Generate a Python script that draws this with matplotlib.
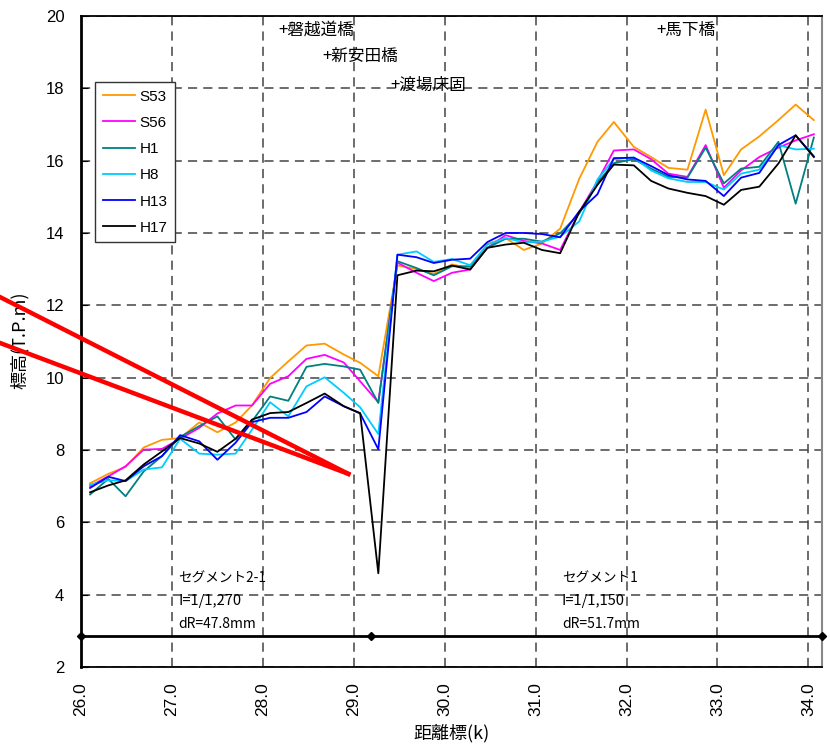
import numpy as np
import matplotlib
matplotlib.use('Agg')
import matplotlib.pyplot as plt

plt.rcParams['font.family'] = ['Noto Sans CJK JP', 'DejaVu Sans']
plt.rcParams['font.size'] = 11
plt.rcParams['xtick.direction'] = 'in'
plt.rcParams['ytick.direction'] = 'in'

# distance markers (k)
dist = [26.10, 26.30, 26.49, 26.69, 26.89, 27.09, 27.30, 27.50, 27.70, 27.88,
        28.08, 28.28, 28.48, 28.68, 28.89, 29.07, 29.27, 29.48, 29.69, 29.88,
        30.08, 30.28, 30.47, 30.67, 30.87, 31.07, 31.27, 31.48, 31.68, 31.86,
        32.08, 32.27, 32.46, 32.67, 32.87, 33.07, 33.26, 33.46, 33.67, 33.86, 34.06]

s53 = [7.08, 7.34, 7.53, 8.07, 8.28, 8.33, 8.76, 8.49, 8.76, 9.23, 9.99, 10.45, 10.89, 10.94, 10.64, 10.41, 10.04,
       13.10, 13.00, 12.87, 13.13, 13.03, 13.70, 13.86, 13.53, 13.71, 14.12, 15.50, 16.52,
       17.07, 16.38, 16.10, 15.80, 15.75, 17.41, 15.60, 16.31, 16.67, 17.12, 17.55, 17.12]
s56 = [7.00, 7.27, 7.55, 8.01, 8.03, 8.31, 8.61, 9.01, 9.23, 9.23, 9.83, 10.04, 10.52, 10.63, 10.42, 9.90, 9.32,
       13.18, 12.90, 12.67, 12.90, 12.99, 13.59, 13.94, 13.78, 13.71, 13.53, 14.58, 15.43,
       16.28, 16.31, 16.04, 15.64, 15.55, 16.43, 15.25, 15.73, 16.10, 16.36, 16.56, 16.73]
h1 = [6.77, 7.20, 6.72, 7.41, 7.83, 8.36, 8.66, 8.93, 8.29, 8.79, 9.48, 9.36, 10.30, 10.38, 10.31, 10.22, 9.30,
      13.22, 13.03, 12.83, 13.08, 13.08, 13.59, 13.84, 13.84, 13.76, 13.99, 14.54, 15.39,
      15.93, 16.04, 15.78, 15.55, 15.53, 16.36, 15.37, 15.78, 15.83, 16.52, 14.81, 16.64]
h8 = [7.04, 7.16, 7.14, 7.46, 7.52, 8.31, 7.90, 7.87, 7.90, 8.56, 9.32, 8.93, 9.76, 10.01, 9.58, 9.18, 8.44,
      13.40, 13.49, 13.20, 13.28, 13.11, 13.68, 13.86, 13.74, 13.76, 13.90, 14.32, 15.48,
      16.04, 16.09, 15.73, 15.51, 15.41, 15.41, 15.20, 15.64, 15.75, 16.43, 16.31, 16.33]
h13 = [6.95, 7.26, 7.14, 7.55, 7.83, 8.41, 8.24, 7.73, 8.20, 8.77, 8.89, 8.89, 9.05, 9.48, 9.21, 9.01, 8.02,
       13.40, 13.33, 13.17, 13.26, 13.29, 13.75, 14.00, 14.00, 13.97, 13.88, 14.60, 15.07,
       16.07, 16.08, 15.85, 15.60, 15.48, 15.44, 15.02, 15.53, 15.66, 16.43, 16.70, 16.12]
h17 = [6.83, 7.02, 7.16, 7.60, 7.96, 8.33, 8.18, 7.95, 8.31, 8.84, 9.02, 9.05, 9.30, 9.56, 9.21, 9.02, 4.59,
       12.83, 12.96, 12.94, 13.10, 12.99, 13.59, 13.68, 13.73, 13.53, 13.44, 14.58, 15.33,
       15.89, 15.87, 15.44, 15.23, 15.11, 15.02, 14.78, 15.19, 15.28, 15.92, 16.70, 16.10]

series_names = ['S53', 'S56', 'H1', 'H8', 'H13', 'H17']
series_vals = [s53, s56, h1, h8, h13, h17]
colors = ['#FF9900', '#FF00FF', '#008080', '#00CCFF', '#0000FF', '#000000']

# segment boundary line
seg_x = [26.0, 29.19, 34.15]
seg_y = [2.86, 2.86, 2.86]

# bridge labels
bridges = ['+磐越道橋', '+新安田橋', '+渡場床固', '+馬下橋']
bridge_x = [28.17, 28.65, 29.40, 32.33]
bridge_y = [19.61, 18.87, 18.09, 19.61]

# red annotation strokes
red1_x = [25.108, 28.94]
red1_y = [12.23, 7.34]
red2_x = [25.108, 28.94]
red2_y = [10.96, 7.34]

num_font = ['Liberation Sans', 'DejaVu Sans']

fig = plt.figure(figsize=(8.3, 7.46), dpi=100)
ax = fig.add_axes([0.0976, 0.1059, 0.8928, 0.8727])

for name, vals, c in zip(series_names, series_vals, colors):
    ax.plot(dist, vals, color=c, lw=1.3, label=name)

ax.plot(seg_x, seg_y, color='black', lw=2.0, marker='D', ms=4.5, clip_on=False, zorder=5)

ax.plot(red1_x, red1_y, color='#FF0000', lw=3.2, clip_on=False, zorder=6)
ax.plot(red2_x, red2_y, color='#FF0000', lw=3.2, clip_on=False, zorder=6)

for t, x, y in zip(bridges, bridge_x, bridge_y):
    ax.text(x, y, t, fontsize=12, va='center', ha='left')

ax.text(27.07, 4.46, 'セグメント2-1', fontsize=9.8, va='center')
ax.text(27.07, 3.83, 'I=1/1,270', fontsize=10.5, va='center')
ax.text(27.07, 3.19, 'dR=47.8mm', fontsize=10, va='center')
ax.text(31.29, 4.46, 'セグメント1', fontsize=9.8, va='center')
ax.text(31.29, 3.83, 'I=1/1,150', fontsize=10.5, va='center')
ax.text(31.29, 3.19, 'dR=51.7mm', fontsize=10, va='center')

ax.set_xlim(26.0, 34.15)
ax.set_ylim(2, 20)
ax.set_xticks(np.arange(26, 35, 1))
ax.set_xticklabels(['%.1f' % v for v in np.arange(26, 35, 1)], rotation=90,
                   fontsize=12.5, family=num_font)
ax.set_yticks(np.arange(2, 21, 2))
ax.set_yticklabels([str(v) for v in range(2, 21, 2)], fontsize=12, family=num_font)
ax.tick_params(axis='y', length=5, pad=12)
ax.tick_params(axis='x', length=0, pad=11)

ax.grid(True, color='#444444', linestyle=(0, (6, 4)), lw=1.1)
for side in ['left', 'bottom', 'top']:
    ax.spines[side].set_color('black')
ax.spines['left'].set_linewidth(2.0)
ax.spines['bottom'].set_linewidth(1.3)
ax.spines['top'].set_linewidth(1.3)
ax.spines['right'].set_color('#888888')
ax.spines['right'].set_linewidth(1.5)

leg = ax.legend(loc='upper left', bbox_to_anchor=(0.019, 0.8986), borderaxespad=0,
                prop={'family': num_font, 'size': 11},
                handlelength=2.1, handletextpad=0.3, labelspacing=0.8,
                fancybox=False, edgecolor='#333333', framealpha=1, borderpad=0.5)
leg.get_frame().set_linewidth(1.0)

ax.set_ylabel('標高(T.P.m)', fontsize=13, va='center')
ax.yaxis.set_label_coords(-0.0823, 0.502)
ax.set_xlabel('距離標(k)', fontsize=13, va='center')
ax.xaxis.set_label_coords(0.5, -0.101)

fig.savefig('out.png', dpi=100)
